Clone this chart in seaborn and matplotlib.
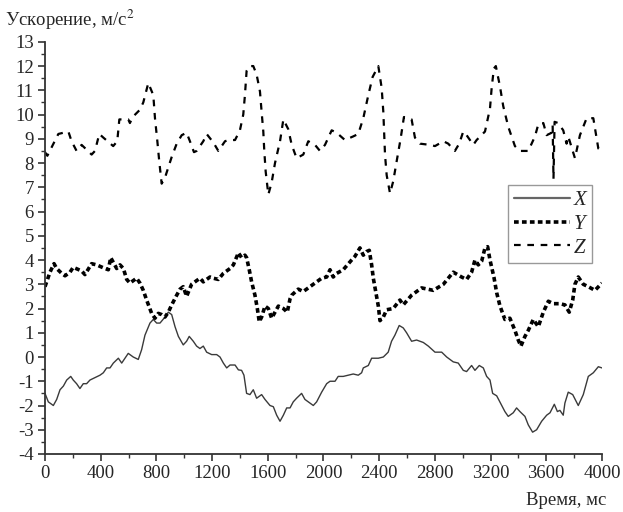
import numpy as np
import pandas as pd
import matplotlib
matplotlib.use("Agg")
import matplotlib.pyplot as plt
import seaborn as sns
from matplotlib.ticker import MultipleLocator


# X axis acceleration
x_t = [0, 24, 60, 84, 108, 132, 156, 185, 203, 227, 251, 275, 299, 323, 359, 395, 419, 443,
       467, 491, 527, 551, 598, 634, 670, 694, 718, 754, 778, 802, 826, 855, 886, 910, 934,
       958, 993, 1017, 1036, 1065, 1089, 1113, 1137, 1161, 1197, 1233, 1257, 1281, 1305,
       1329, 1365, 1389, 1412, 1429, 1448, 1472, 1496, 1520, 1556, 1580, 1616, 1640, 1664,
       1688, 1712, 1736, 1760, 1783, 1807, 1843, 1867, 1903, 1927, 1951, 1987, 2023, 2047,
       2083, 2106, 2142, 2178, 2214, 2250, 2274, 2286, 2322, 2346, 2394, 2430, 2465, 2489,
       2513, 2544, 2573, 2597, 2633, 2669, 2717, 2753, 2801, 2849, 2885, 2932, 2968, 3004,
       3028, 3064, 3088, 3119, 3148, 3172, 3196, 3215, 3244, 3280, 3303, 3327, 3363, 3387,
       3411, 3447, 3471, 3502, 3531, 3567, 3603, 3627, 3658, 3680, 3698, 3722, 3734, 3758,
       3790, 3830, 3866, 3902, 3938, 3974, 4000]
x_val = [-1.5, -1.85, -2.0, -1.75, -1.35, -1.2, -0.95, -0.8, -0.95, -1.1, -1.3, -1.1, -1.1,
         -0.95, -0.85, -0.75, -0.65, -0.45, -0.45, -0.25, -0.05, -0.25, 0.15, 0.0, -0.1, 0.3,
         0.9, 1.4, 1.55, 1.4, 1.4, 1.6, 1.85, 1.75, 1.25, 0.85, 0.5, 0.65, 0.85, 0.65, 0.45,
         0.35, 0.45, 0.2, 0.1, 0.1, 0.0, -0.25, -0.45, -0.33, -0.33, -0.53, -0.55, -0.75,
         -1.5, -1.55, -1.35, -1.7, -1.55, -1.75, -2.0, -2.05, -2.4, -2.65, -2.4, -2.1, -2.1,
         -1.85, -1.7, -1.5, -1.75, -1.9, -2.0, -1.85, -1.45, -1.1, -1.0, -1.0, -0.8, -0.8,
         -0.75, -0.7, -0.75, -0.65, -0.45, -0.35, -0.05, -0.05, 0.0, 0.2, 0.65, 0.9, 1.3,
         1.2, 1.0, 0.65, 0.7, 0.6, 0.45, 0.2, 0.2, 0.0, -0.2, -0.25, -0.55, -0.6, -0.35,
         -0.55, -0.35, -0.45, -0.8, -0.95, -1.5, -1.6, -2.0, -2.25, -2.45, -2.3, -2.1, -2.25,
         -2.45, -2.8, -3.1, -3.0, -2.65, -2.4, -2.3, -1.95, -2.25, -2.2, -2.4, -1.9, -1.45,
         -1.55, -2.0, -1.55, -0.8, -0.65, -0.4, -0.45]

# Y axis acceleration
y_t = [0, 12, 36, 65, 84, 120, 144, 180, 203, 263, 287, 335, 371, 431, 455, 472, 491, 515,
       539, 563, 587, 610, 658, 682, 706, 730, 766, 790, 814, 838, 862, 886, 910, 946, 970,
       993, 1017, 1053, 1077, 1113, 1137, 1185, 1209, 1245, 1281, 1329, 1353, 1389, 1412,
       1436, 1448, 1467, 1484, 1508, 1525, 1539, 1556, 1580, 1604, 1628, 1676, 1712, 1740,
       1760, 1772, 1819, 1855, 1903, 1939, 1987, 2023, 2047, 2070, 2095, 2142, 2202, 2226,
       2262, 2286, 2310, 2329, 2346, 2358, 2377, 2394, 2406, 2430, 2454, 2501, 2549, 2573,
       2633, 2705, 2789, 2861, 2932, 2992, 3028, 3064, 3088, 3112, 3136, 3160, 3179, 3196,
       3224, 3244, 3268, 3303, 3339, 3375, 3399, 3418, 3447, 3471, 3507, 3543, 3579, 3615,
       3651, 3698, 3734, 3765, 3790, 3806, 3830, 3866, 3902, 3950, 4000]
y_val = [2.9, 3.1, 3.5, 3.85, 3.65, 3.45, 3.35, 3.5, 3.7, 3.55, 3.4, 3.85, 3.8, 3.65, 3.6,
         4.1, 3.9, 3.65, 3.8, 3.65, 3.2, 3.05, 3.25, 3.05, 2.75, 2.35, 1.8, 1.6, 1.8, 1.75,
         1.65, 1.85, 2.15, 2.55, 2.8, 2.9, 2.5, 3.0, 3.1, 3.25, 3.1, 3.3, 3.25, 3.2, 3.45,
         3.65, 3.8, 4.3, 4.1, 4.2, 4.1, 3.6, 3.1, 2.55, 2.0, 1.45, 1.65, 2.1, 2.0, 1.6, 2.1,
         2.0, 1.85, 2.4, 2.55, 2.8, 2.7, 2.9, 3.05, 3.25, 3.3, 3.6, 3.3, 3.45, 3.6, 4.0,
         4.15, 4.5, 4.2, 4.35, 4.4, 3.8, 3.25, 2.65, 2.1, 1.5, 1.65, 1.95, 2.0, 2.35, 2.15,
         2.55, 2.85, 2.75, 3.0, 3.5, 3.3, 3.2, 3.5, 4.0, 3.8, 3.95, 4.5, 4.55, 4.0, 3.3,
         2.65, 2.1, 1.55, 1.6, 1.1, 0.7, 0.45, 0.85, 1.1, 1.55, 1.25, 1.85, 2.3, 2.2, 2.2,
         2.15, 1.85, 2.35, 3.0, 3.3, 3.0, 2.9, 2.75, 3.05]

# Z axis acceleration
z_t = [0, 17, 96, 168, 191, 227, 263, 335, 359, 390, 419, 490, 519, 534, 598, 610, 630, 682,
       706, 742, 778, 790, 807, 821, 838, 862, 910, 946, 982, 1017, 1041, 1070, 1089, 1137,
       1161, 1209, 1245, 1293, 1317, 1365, 1400, 1424, 1436, 1448, 1470, 1496, 1520, 1544,
       1556, 1568, 1575, 1585, 1604, 1628, 1652, 1688, 1712, 1747, 1772, 1807, 1855, 1891,
       1939, 1975, 2011, 2059, 2095, 2154, 2214, 2250, 2286, 2322, 2353, 2394, 2418, 2430,
       2442, 2454, 2478, 2501, 2525, 2554, 2578, 2633, 2657, 2693, 2765, 2801, 2861, 2896,
       2944, 2975, 3004, 3028, 3076, 3100, 3160, 3196, 3208, 3224, 3238, 3268, 3291, 3327,
       3375, 3411, 3471, 3519, 3543, 3579, 3603, 3639, 3646, 3652, 3660, 3686, 3722, 3746,
       3758, 3806, 3842, 3890, 3938, 3974, 4000]
z_val = [8.45, 8.3, 9.2, 9.3, 8.9, 8.5, 8.75, 8.35, 8.5, 9.2, 9.05, 8.7, 8.9, 9.8, 9.8, 9.65,
         9.9, 10.2, 10.5, 11.3, 10.8, 9.85, 8.9, 8.05, 7.15, 7.4, 8.25, 8.8, 9.15, 9.25, 8.9,
         8.45, 8.5, 8.9, 9.2, 8.85, 8.5, 8.9, 8.95, 8.95, 9.35, 10.0, 10.8, 11.8, 12.0, 12.0,
         11.65, 10.95, 10.1, 9.3, 8.5, 7.65, 6.7, 7.2, 8.0, 8.9, 9.8, 9.4, 8.75, 8.2, 8.35,
         8.9, 8.75, 8.5, 8.75, 9.35, 9.25, 8.95, 9.1, 9.2, 9.85, 10.8, 11.55, 12.0, 11.1,
         10.1, 8.35, 7.5, 6.75, 7.25, 8.05, 9.0, 9.9, 9.8, 9.05, 8.8, 8.75, 8.7, 8.9, 8.8,
         8.5, 8.8, 9.3, 9.15, 8.75, 8.95, 9.3, 10.25, 11.1, 11.9, 12.0, 11.15, 10.35, 9.5,
         8.7, 8.5, 8.5, 9.1, 9.6, 9.65, 9.15, 9.25, 9.55, 7.35, 9.7, 9.65, 9.35, 8.8, 9.1,
         8.2, 9.15, 9.85, 9.85, 8.6, 8.5]

x_ticks = np.arange(0, 4001, 400)
y_ticks = np.arange(-4, 14, 1)

sns.set_theme(style="ticks")
plt.rcParams['font.family'] = ['Liberation Serif', 'DejaVu Serif']
plt.rcParams['font.size'] = 13
plt.rcParams['axes.unicode_minus'] = False
plt.rcParams['mathtext.fontset'] = 'stix'

fig = plt.figure(figsize=(6.23, 5.12), dpi=100)
ax = fig.add_axes([0.0722, 0.1133, 0.894, 0.805])

sns.lineplot(x=x_t, y=x_val, ax=ax, color="#3a3a3a", linewidth=1.0, label="X")
sns.lineplot(x=y_t, y=y_val, ax=ax, color="black", linewidth=2.6, label="Y")
sns.lineplot(x=z_t, y=z_val, ax=ax, color="black", linewidth=1.6, label="Z")
ax.lines[1].set_dashes((1.3, 0.9))
ax.lines[2].set_dashes((3.0, 3.0))

ax.set_xlim(0, 4000)
ax.set_ylim(-4, 13)
ax.set_xticks(x_ticks)
ax.set_yticks(y_ticks)
ax.xaxis.set_minor_locator(MultipleLocator(200))
ax.yaxis.set_minor_locator(MultipleLocator(0.5))
ax.tick_params(which="major", direction="out", length=5, width=1.2, labelsize=13.5,
               color="#333333", pad=3)
ax.tick_params(which="minor", direction="out", length=3, width=1.0, color="#333333")
for s in ["top", "right"]:
    ax.spines[s].set_visible(False)
for s in ["left", "bottom"]:
    ax.spines[s].set_color("#333333")
    ax.spines[s].set_linewidth(1.3)
ax.set_xlabel("")
ax.set_ylabel("")

fig.text(0.008, 0.962, "Ускорение, м/с$^2$", fontsize=13.5, ha="left", va="center")
fig.text(0.973, 0.022, "Время, мс", fontsize=13.5, ha="right", va="center")

leg = ax.legend(loc="upper left", bbox_to_anchor=(0.832, 0.652), frameon=True,
                fancybox=False, edgecolor="#999999", framealpha=1,
                prop={"family": "Liberation Serif", "style": "italic", "size": 15},
                handlelength=2.7, handletextpad=0.2, borderpad=0.25, labelspacing=0.2,
                borderaxespad=0)
leg.get_frame().set_linewidth(1.0)
leg.get_lines()[0].set_color("#666666")
leg.get_lines()[0].set_linewidth(1.6)

fig.savefig("out.png", dpi=100)
